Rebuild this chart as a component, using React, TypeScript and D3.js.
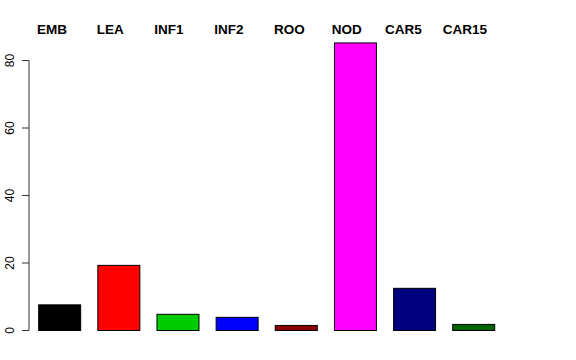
import React from "react";
import * as d3 from "d3";

const categories = ["EMB", "LEA", "INF1", "INF2", "ROO", "NOD", "CAR5", "CAR15"];
const values = [7.6, 19.3, 4.8, 3.9, 1.5, 85.2, 12.5, 1.8];
const colors = ["#000000", "#FF0000", "#00CD00", "#0000FF", "#8B0000", "#FF00FF", "#000080", "#006400"];
const yTicks = [0, 20, 40, 60, 80];
const labelX = [37, 96.7, 154.3, 214.3, 274, 331.7, 385, 442.7];

export default function App() {
  const W = 576, H = 360;
  const x = d3.scaleBand<string>().domain(categories).range([30.1, 503.3]).paddingInner(0.29).paddingOuter(0.145);
  const y = d3.scaleLinear().domain([0, 80]).range([330.5, 60.5]);
  const axisX = 29;
  return (
    <svg width={W} height={H} style={{ position: "absolute", left: 0, top: 0, fontFamily: "Liberation Sans, Arial, sans-serif" }}>
      <rect width={W} height={H} fill="white" />
      {categories.map((c, i) => (
        <rect key={c} x={x(c)} y={y(values[i])} width={x.bandwidth()} height={y(0) - y(values[i])}
          fill={colors[i]} stroke="#000" strokeWidth={1} />
      ))}
      <line x1={axisX} x2={axisX} y1={y(0)} y2={y(80)} stroke="#333" strokeWidth={1} />
      {yTicks.map(t => (
        <g key={t}>
          <line x1={axisX - 7} x2={axisX} y1={y(t)} y2={y(t)} stroke="#333" strokeWidth={1} />
          <text transform={`translate(14,${y(t)}) rotate(-90)`} textAnchor="middle" fontSize={12} fill="#000">{t}</text>
        </g>
      ))}
      {categories.map((c, i) => (
        <text key={c} x={labelX[i]} y={34} fontSize={13.5} fontWeight="bold" fill="#000">{c}</text>
      ))}
    </svg>
  );
}
